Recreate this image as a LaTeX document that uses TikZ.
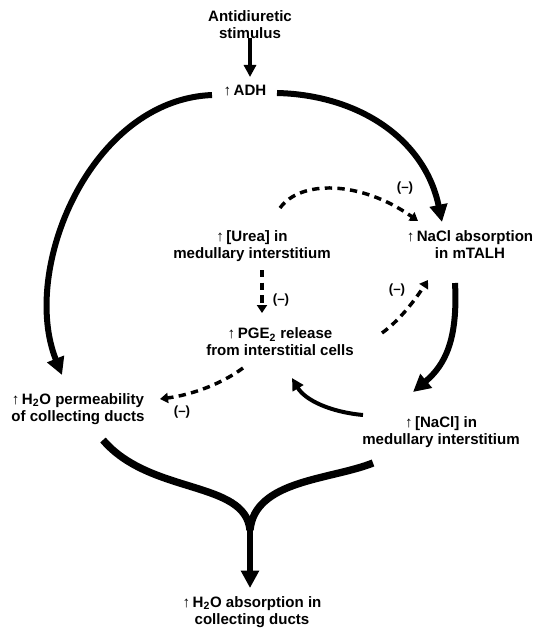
\documentclass[tikz,border=0pt]{standalone}
\usepackage{fontspec}
\setmainfont{Liberation Sans}
\usetikzlibrary{arrows.meta}
\newcommand{\upar}{↑\,}
\begin{document}
\begin{tikzpicture}[x=0.75pt,y=-0.75pt,
  lbl/.style={font=\fontsize{11.3}{12.8}\selectfont\bfseries, align=center, inner sep=1pt},
  neg/.style={font=\fontsize{10}{12}\selectfont\bfseries, inner sep=0pt},
  bigarrow/.style={line width=4.5pt, -{Triangle[length=13pt,width=13pt]}},
  bigline/.style={line width=5.5pt},
  midarrow/.style={line width=3pt, -{Triangle[length=9pt,width=9pt]}},
  dasharrow/.style={line width=2.6pt, dash pattern=on 5.5pt off 4pt, -{Triangle[length=6pt,width=7.5pt]}}]
\useasboundingbox (0,0) rectangle (540,634);
% texts
\node[lbl] (stim) at (250,25) {Antidiuretic\\stimulus};
\node[lbl] (adh) at (245,91) {\upar ADH};
\node[lbl] (urea) at (252,246) {\upar [Urea] in\\medullary interstitium};
\node[lbl] (nacl) at (470,245) {\upar NaCl absorption\\in mTALH};
\node[lbl] (pge) at (280,342) {\upar PGE\textsubscript{2} release\\from interstitial cells};
\node[lbl] (perm) at (78,409) {\upar H\textsubscript{2}O permeability\\of collecting ducts};
\node[lbl] (naclm) at (441,432) {\upar [NaCl] in\\medullary interstitium};
\node[lbl] (abs) at (252,612) {\upar H\textsubscript{2}O absorption in\\collecting ducts};
% labels
\node[neg] (n1) at (405,188) {(–)};
\node[neg] (n2) at (281,300) {(–)};
\node[neg] (n3) at (397,290) {(–)};
\node[neg] (n4) at (182,412) {(–)};
% coordinates
\coordinate (ls) at (212,95);
\coordinate (lt) at (62,375);
\coordinate (rs) at (277,93);
\coordinate (rt) at (442,222);
\coordinate (ds) at (455,283);
\coordinate (dt) at (413,392);
\coordinate (ms) at (363,415);
\coordinate (mt) at (292,378);
\coordinate (u1) at (262,270);
\coordinate (u2) at (262,313);
\coordinate (u3) at (280,208);
\coordinate (u4) at (418,221);
\coordinate (p1) at (382,333);
\coordinate (p2) at (428,280);
\coordinate (p3) at (243,368);
\coordinate (p4) at (160,399);
\coordinate (yl) at (103,440);
\coordinate (yr) at (373,463);
\coordinate (ym) at (250,530);
\coordinate (yt) at (250,588);
% arrows
\draw[midarrow] (stim.south) ++(0,-3) -- (250,77);
\draw[bigarrow] (ls) .. controls (90,100) and (20,270) .. (lt);
\draw[bigarrow] (rs) .. controls (360,95) and (425,140) .. (rt);
\draw[bigarrow] (ds) .. controls (458,340) and (445,365) .. (dt);
\draw[midarrow] (ms) .. controls (330,412) and (305,400) .. (mt);
\draw[dasharrow] (u1) -- (u2);
\draw[dasharrow] (u3) .. controls (300,180) and (360,180) .. (u4);
\draw[dasharrow] (p1) .. controls (400,320) and (415,300) .. (p2);
\draw[dasharrow] (p3) .. controls (220,385) and (190,395) .. (p4);
\draw[bigline] (yl) .. controls (150,495) and (245,480) .. (ym);
\draw[bigline] (yr) .. controls (330,480) and (255,480) .. (ym);
\draw[bigarrow] (ym) ++(0,-3) -- (yt);
\end{tikzpicture}
\end{document}
